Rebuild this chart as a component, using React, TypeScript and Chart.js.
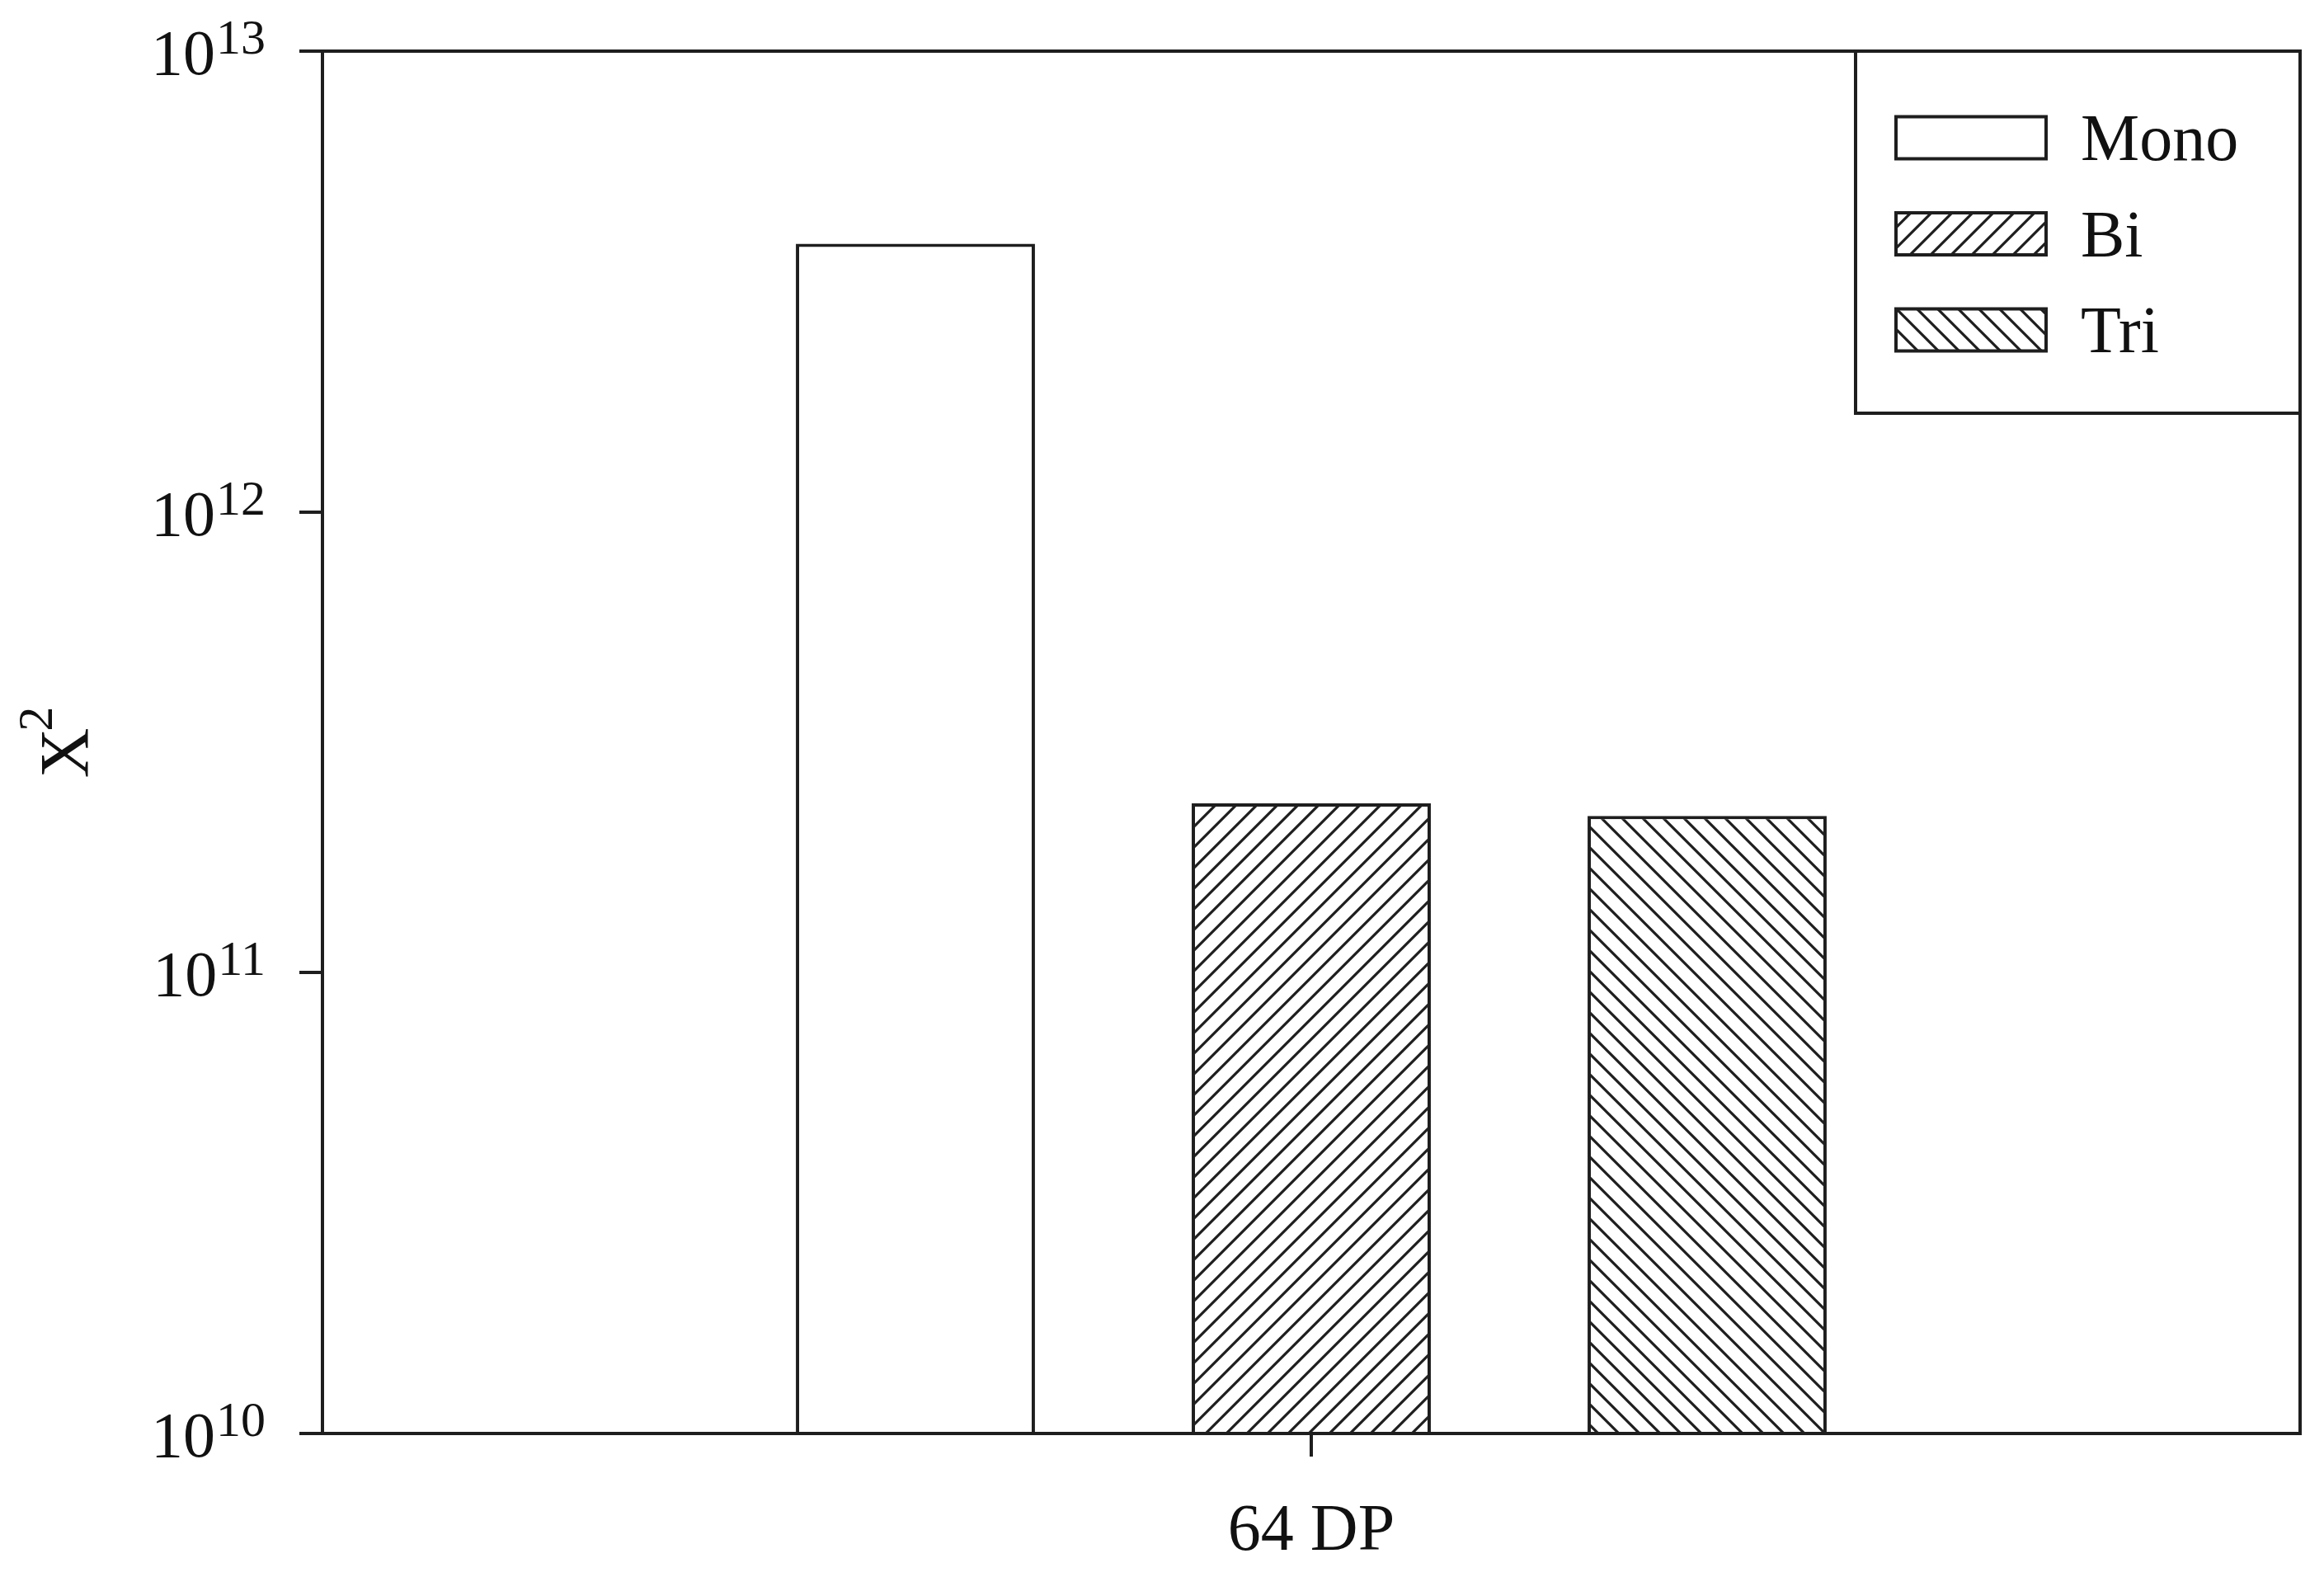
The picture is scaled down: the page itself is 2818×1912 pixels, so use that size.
import { useEffect, useRef } from 'react';
import { Chart, registerables } from 'chart.js';

Chart.register(...registerables);

// ---- data ----
const categories = ['64 DP'];
const seriesNames = ['Mono', 'Bi', 'Tri'];
const monoValues = [3.82e12];
const biValues = [2.33e11];
const triValues = [2.19e11];
const yTickValues = [1e10, 1e11, 1e12, 1e13];
const yTickExponents = ['10', '11', '12', '13'];
const yTickBase = '10';
const yTitleBase = 'X';
const yTitleSup = '2';

const INK = '#1e1e1e';
const FONT = '"Liberation Serif", "Times New Roman", serif';

function makeHatch(ctx: CanvasRenderingContext2D, dir: number, size = 25, lw = 3.2): CanvasPattern {
  const c = document.createElement('canvas');
  c.width = size;
  c.height = size;
  const g = c.getContext('2d')!;
  g.fillStyle = '#fff';
  g.fillRect(0, 0, size, size);
  g.strokeStyle = INK;
  g.lineWidth = lw;
  g.beginPath();
  for (const o of [-size, 0, size]) {
    if (dir > 0) {
      g.moveTo(o - 2, size + 2);
      g.lineTo(o + size + 2, -2);
    } else {
      g.moveTo(o - 2, -2);
      g.lineTo(o + size + 2, size + 2);
    }
  }
  g.stroke();
  return ctx.createPattern(c, 'repeat')!;
}

export default function App() {
  const ref = useRef<HTMLCanvasElement>(null);

  useEffect(() => {
    const canvas = ref.current!;
    const ctx = canvas.getContext('2d')!;
    const biPat = makeHatch(ctx, 1);
    const triPat = makeHatch(ctx, -1);
    const fills: (string | CanvasPattern)[] = ['#ffffff', biPat, triPat];

    const decorPlugin = {
      id: 'decor',
      afterDraw(chart: any) {
        const { ctx: c, chartArea: a, scales } = chart;
        c.save();
        // frame
        c.strokeStyle = INK;
        c.lineWidth = 4;
        c.strokeRect(a.left, a.top, a.right - a.left, a.bottom - a.top);

        // y tick labels with superscripts
        const ys = scales.y;
        c.fillStyle = '#111';
        c.textAlign = 'right';
        c.textBaseline = 'alphabetic';
        yTickValues.forEach((v, i) => {
          const py = ys.getPixelForValue(v);
          const right = a.left - 69;
          c.font = `60px ${FONT}`;
          const supW = c.measureText(yTickExponents[i]).width;
          c.fillText(yTickExponents[i], right, py + 3);
          c.font = `78px ${FONT}`;
          c.fillText(yTickBase, right - supW - 1, py + 28);
        });

        // y axis title
        const cy = (a.top + a.bottom) / 2;
        c.font = `84px ${FONT}`;
        const xw = c.measureText(yTitleBase).width;
        c.font = `60px ${FONT}`;
        const sw = c.measureText(yTitleSup).width;
        const total = xw - 4 + sw;
        c.save();
        c.translate(107, cy + total / 2);
        c.rotate(-Math.PI / 2);
        c.textAlign = 'left';
        c.font = `84px ${FONT}`;
        c.fillText(yTitleBase, 0, 0);
        c.font = `60px ${FONT}`;
        c.fillText(yTitleSup, xw - 4, -44);
        c.restore();

        // legend
        const lw = 539;
        const lh = 439;
        const lx = a.right - lw;
        const ly = a.top;
        c.fillStyle = '#fff';
        c.fillRect(lx, ly, lw, lh);
        c.strokeStyle = INK;
        c.lineWidth = 4;
        c.strokeRect(lx, ly, lw, lh);
        seriesNames.forEach((name, i) => {
          const cyy = ly + 105 + i * 116.5;
          const sx = lx + 49;
          const swd = 182;
          const sh = 51;
          c.fillStyle = fills[i] as any;
          c.fillRect(sx, cyy - sh / 2, swd, sh);
          c.lineWidth = 4;
          c.strokeStyle = INK;
          c.strokeRect(sx, cyy - sh / 2, swd, sh);
          c.fillStyle = '#111';
          c.textAlign = 'left';
          c.textBaseline = 'alphabetic';
          c.font = `80px ${FONT}`;
          c.fillText(name, lx + 273, cyy + 27);
        });
        c.restore();
      },
    };

    const chart = new Chart(canvas, {
      type: 'bar',
      data: {
        labels: categories,
        datasets: [
          { label: seriesNames[0], data: monoValues, backgroundColor: fills[0] as any, borderColor: INK, borderWidth: 4 },
          { label: seriesNames[1], data: biValues, backgroundColor: fills[1] as any, borderColor: INK, borderWidth: 4 },
          { label: seriesNames[2], data: triValues, backgroundColor: fills[2] as any, borderColor: INK, borderWidth: 4 },
        ],
      },
      options: {
        responsive: false,
        animation: false,
        devicePixelRatio: 1,
        layout: { padding: { top: 62, right: 29, left: 0, bottom: 0 } },
        datasets: { bar: { categoryPercentage: 0.6005, barPercentage: 0.604 } },
        plugins: {
          legend: { display: false },
          tooltip: { enabled: false },
          title: { display: false },
        },
        scales: {
          x: {
            type: 'category',
            offset: true,
            grid: {
              display: true,
              offset: false,
              drawOnChartArea: false,
              drawTicks: true,
              tickLength: 28,
              lineWidth: 4,
              color: INK,
            },
            border: { display: true, width: 4, color: INK },
            ticks: { font: { family: FONT, size: 80 }, color: '#111', padding: 44, maxRotation: 0 },
            afterFit: (s: any) => {
              s.height = 174;
            },
          },
          y: {
            type: 'logarithmic',
            min: 1e10,
            max: 1e13,
            grid: {
              display: true,
              drawOnChartArea: false,
              drawTicks: true,
              tickLength: 28,
              lineWidth: 4,
              color: INK,
            },
            border: { display: true, width: 4, color: INK },
            ticks: { display: false },
            afterBuildTicks: (s: any) => {
              s.ticks = yTickValues.map((v) => ({ value: v }));
            },
            afterFit: (s: any) => {
              s.width = 391;
            },
          },
        },
      },
      plugins: [decorPlugin],
    });

    return () => chart.destroy();
  }, []);

  return (
    <div style={{ position: 'absolute', left: 0, top: 0, width: 2818, height: 1912, background: '#fff' }}>
      <canvas ref={ref} width={2818} height={1912} style={{ display: 'block', width: 2818, height: 1912 }} />
    </div>
  );
}
